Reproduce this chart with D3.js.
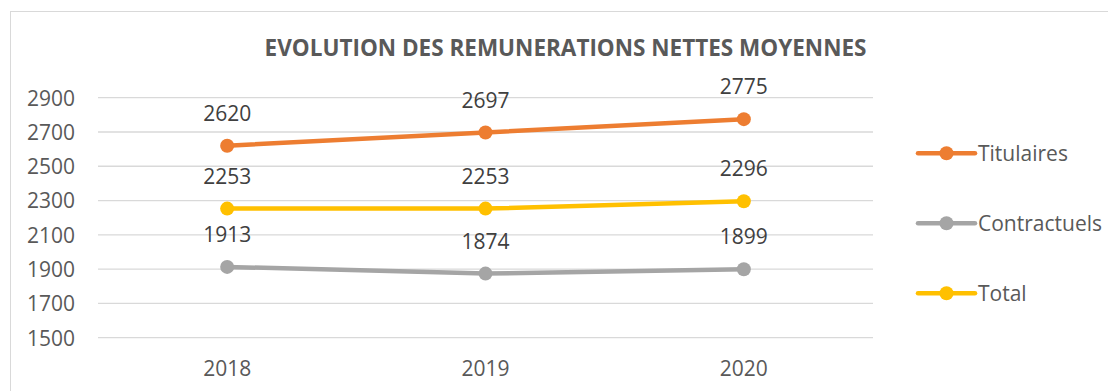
<!DOCTYPE html>
<html>
<head>
<meta charset="utf-8">
<script src="https://cdn.jsdelivr.net/npm/d3@7"></script>
<style>
  html, body { margin: 0; padding: 0; background: #fff; }
  svg { display: block; }
  text { font-family: "Open Sans", "Noto Sans", sans-serif; }
</style>
</head>
<body>
<svg id="chart" width="1108" height="391"></svg>
<script>
// Chart data
const years = ["2018", "2019", "2020"];
const titulaires = [2620, 2697, 2775];
const contractuels = [1913, 1874, 1899];
const total = [2253, 2253, 2296];
const yTicks = [1500, 1700, 1900, 2100, 2300, 2500, 2700, 2900];
const seriesNames = ["Titulaires", "Contractuels", "Total"];
const seriesColors = ["#ED7D31", "#A5A5A5", "#FFC000"];
const chartTitle = "EVOLUTION DES REMUNERATIONS NETTES MOYENNES";

const series = [
  { name: seriesNames[0], values: titulaires, color: seriesColors[0] },
  { name: seriesNames[1], values: contractuels, color: seriesColors[1] },
  { name: seriesNames[2], values: total, color: seriesColors[2] }
];

const svg = d3.select("#chart");
const W = 1108, H = 391;
const FS = 21;

// Outer frame
svg.append("rect")
  .attr("x", 10.5).attr("y", 11.5)
  .attr("width", W + 10).attr("height", H + 10)
  .attr("fill", "#fff").attr("stroke", "#d9d9d9").attr("stroke-width", 1);

const plot = { left: 98, right: 873, top: 97.7, bottom: 337.7 };

const x = d3.scaleBand().domain(years).range([plot.left, plot.right]);
const y = d3.scaleLinear().domain([1500, 2900]).range([plot.bottom, plot.top]);
const cx = d => x(d) + x.bandwidth() / 2;

// Title
svg.append("text")
  .attr("x", (263 + 868) / 2).attr("y", 56)
  .attr("text-anchor", "middle")
  .attr("font-size", 22.5).attr("font-weight", "bold")
  .attr("fill", "#595959")
  .text(chartTitle);

// Gridlines
svg.append("g")
  .selectAll("line").data(yTicks).join("line")
  .attr("x1", plot.left).attr("x2", plot.right)
  .attr("y1", d => y(d)).attr("y2", d => y(d))
  .attr("stroke", "#d9d9d9").attr("stroke-width", 1.3);

// Y axis labels
const yAxis = d3.axisLeft(y).tickValues(yTicks).tickSize(0).tickPadding(0).tickFormat(d3.format("d"));
const gy = svg.append("g").attr("transform", "translate(75,0)").call(yAxis);
gy.select(".domain").remove();
gy.selectAll("text")
  .attr("font-family", "Open Sans, Noto Sans, sans-serif")
  .attr("font-size", FS).attr("fill", "#595959").attr("dy", "0.35em");

// X axis labels
const xAxis = d3.axisBottom(x).tickSize(0).tickPadding(0);
const gx = svg.append("g").attr("transform", "translate(0,376)").call(xAxis);
gx.select(".domain").remove();
gx.selectAll("text")
  .attr("font-family", "Open Sans, Noto Sans, sans-serif")
  .attr("font-size", FS).attr("fill", "#595959").attr("dy", 0);

// Lines, markers and value labels
const line = d3.line().x((d, i) => cx(years[i])).y(d => y(d));
series.forEach(s => {
  const g = svg.append("g");
  g.append("path")
    .attr("d", line(s.values))
    .attr("fill", "none").attr("stroke", s.color)
    .attr("stroke-width", 4.5).attr("stroke-linecap", "round").attr("stroke-linejoin", "round");
  g.selectAll("circle").data(s.values).join("circle")
    .attr("cx", (d, i) => cx(years[i])).attr("cy", d => y(d))
    .attr("r", 7).attr("fill", s.color);
  g.selectAll("text").data(s.values).join("text")
    .attr("x", (d, i) => cx(years[i])).attr("y", d => y(d) - 25)
    .attr("text-anchor", "middle")
    .attr("font-size", FS).attr("fill", "#404040")
    .text(d => d);
});

// Legend
const legend = svg.append("g");
series.forEach((s, i) => {
  const ly = 153.3 + i * 70;
  legend.append("line")
    .attr("x1", 918).attr("x2", 975).attr("y1", ly).attr("y2", ly)
    .attr("stroke", s.color).attr("stroke-width", 4.5).attr("stroke-linecap", "round");
  legend.append("circle").attr("cx", 946.5).attr("cy", ly).attr("r", 7).attr("fill", s.color);
  legend.append("text")
    .attr("x", 978).attr("y", ly).attr("dy", "0.35em")
    .attr("font-size", FS).attr("fill", "#595959")
    .text(s.name);
});
</script>
</body>
</html>
